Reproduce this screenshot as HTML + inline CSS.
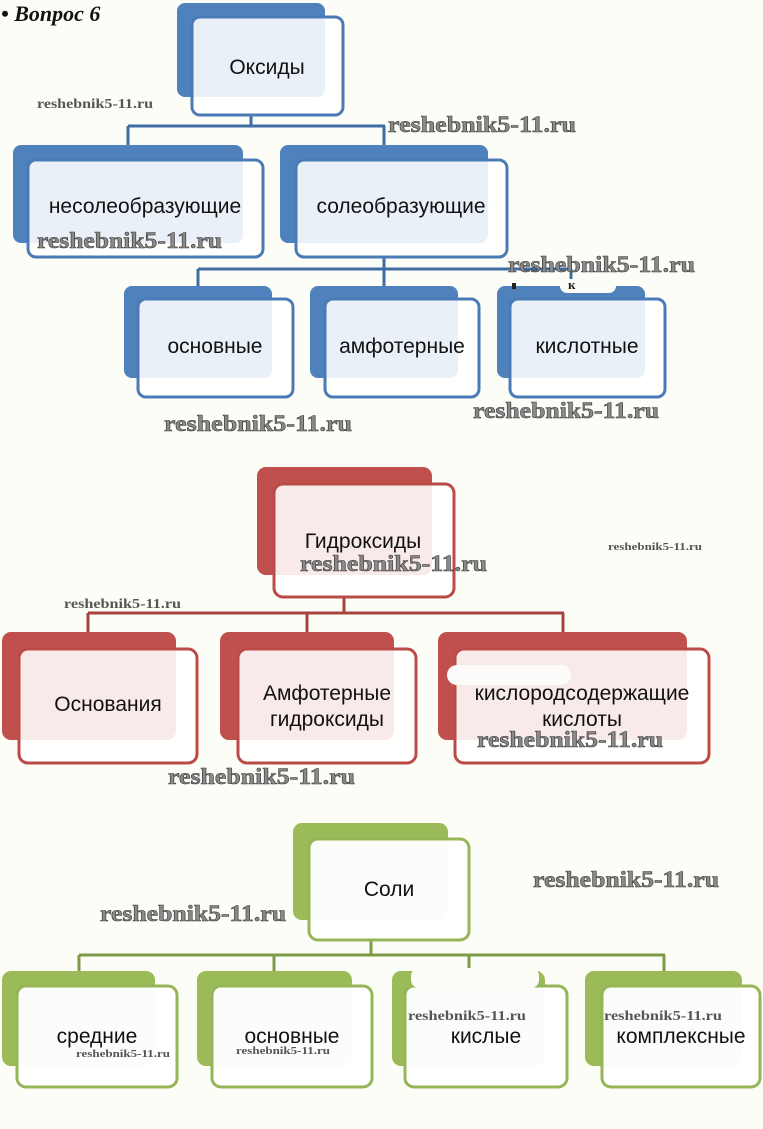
<!DOCTYPE html>
<html>
<head>
<meta charset="utf-8">
<style>
html,body{margin:0;padding:0;background:#fdfdf7;}
svg{display:block;}
.t{font-family:"Liberation Sans","DejaVu Sans",sans-serif;font-size:21px;fill:#111;text-anchor:middle;}
.wm{font-family:"Liberation Serif","DejaVu Serif",serif;font-weight:bold;fill:#8a8a8a;stroke:#3a3a3a;stroke-width:0.6;}
.ws{font-family:"Liberation Serif","DejaVu Serif",serif;font-weight:bold;fill:#555;}
.bb{fill:#4f81bd}
.bf{fill:#fff;fill-opacity:.88;stroke:#4a7bb7;stroke-width:3}
.bl{stroke:#3f6ca3;stroke-width:3;fill:none}
.rb{fill:#c0504d}
.rf{fill:#fff;fill-opacity:.88;stroke:#bb4b48;stroke-width:3}
.rl{stroke:#a8423f;stroke-width:3;fill:none}
.gb{fill:#9bbb59}
.gf{fill:#fff;fill-opacity:.97;stroke:#95b556;stroke-width:3}
.gl{stroke:#7d9a47;stroke-width:3;fill:none}
</style>
</head>
<body>
<svg width="763" height="1129" viewBox="0 0 763 1129" xmlns="http://www.w3.org/2000/svg">
<rect x="0" y="0" width="763" height="1129" fill="#fdfdf7"/>

<!-- Header -->
<text x="1" y="21" style="font-family:'Liberation Serif',serif;font-weight:bold;font-style:italic;font-size:22px;fill:#111">• Вопрос 6</text>

<!-- ===== Section 1: Oxides ===== -->
<path class="bl" d="M251 115 V126 M128 126 H385 M128 126 V146 M384 126 V146"/>
<path class="bl" d="M384 257 V269 M198 269 H572 M198 269 V287 M384 269 V287 M571 269 V287"/>

<rect class="bb" x="177" y="3" width="148" height="94" rx="8"/>
<rect class="bf" x="192" y="17" width="151" height="98" rx="8"/>
<text class="t" x="267" y="74">Оксиды</text>

<rect class="bb" x="13" y="145" width="230" height="98" rx="8"/>
<rect class="bf" x="28" y="160" width="235" height="97" rx="8"/>
<text class="t" x="145" y="213">несолеобразующие</text>

<rect class="bb" x="280" y="145" width="208" height="98" rx="8"/>
<rect class="bf" x="296" y="160" width="211" height="97" rx="8"/>
<text class="t" x="401" y="213">солеобразующие</text>

<rect class="bb" x="124" y="286" width="148" height="92" rx="8"/>
<rect class="bf" x="138" y="299" width="155" height="98" rx="8"/>
<text class="t" x="215" y="353">основные</text>

<rect class="bb" x="310" y="286" width="148" height="92" rx="8"/>
<rect class="bf" x="325" y="299" width="154" height="98" rx="8"/>
<text class="t" x="402" y="353">амфотерные</text>

<rect class="bb" x="497" y="286" width="148" height="92" rx="8"/>
<rect class="bf" x="510" y="299" width="155" height="98" rx="8"/>
<text class="t" x="587" y="353">кислотные</text>
<!-- artifact above кислотные -->
<rect x="560" y="279" width="56" height="14" rx="7" fill="#fdfdf7"/>
<text x="568" y="289" style="font-family:'Liberation Serif',serif;font-weight:bold;font-size:13px;fill:#222">к</text>
<rect x="512" y="283" width="4" height="6" fill="#222"/>

<!-- watermarks sec 1 -->
<text class="ws" x="37" y="108" font-size="14" textLength="116" lengthAdjust="spacingAndGlyphs">reshebnik5-11.ru</text>
<text class="wm" x="388" y="132" font-size="23" textLength="188" lengthAdjust="spacingAndGlyphs">reshebnik5-11.ru</text>
<text class="wm" x="37" y="248" font-size="23" textLength="185" lengthAdjust="spacingAndGlyphs">reshebnik5-11.ru</text>
<text class="wm" x="508" y="272" font-size="23" textLength="187" lengthAdjust="spacingAndGlyphs">reshebnik5-11.ru</text>
<text class="wm" x="164" y="431" font-size="23" textLength="188" lengthAdjust="spacingAndGlyphs">reshebnik5-11.ru</text>
<text class="wm" x="473" y="418" font-size="23" textLength="186" lengthAdjust="spacingAndGlyphs">reshebnik5-11.ru</text>

<!-- ===== Section 2: Hydroxides ===== -->
<path class="rl" d="M344 597 V613 M88 613 H564 M88 613 V633 M307 613 V633 M563 613 V633"/>

<rect class="rb" x="257" y="467" width="175" height="108" rx="9"/>
<rect class="rf" x="274" y="484" width="180" height="113" rx="9"/>
<text class="t" x="363" y="548">Гидроксиды</text>

<rect class="rb" x="2" y="632" width="174" height="108" rx="9"/>
<rect class="rf" x="19" y="649" width="178" height="114" rx="9"/>
<text class="t" x="108" y="711">Основания</text>

<rect class="rb" x="220" y="632" width="174" height="108" rx="9"/>
<rect class="rf" x="238" y="649" width="178" height="114" rx="9"/>
<text class="t" x="327" y="700">Амфотерные</text>
<text class="t" x="327" y="726">гидроксиды</text>

<rect class="rb" x="438" y="632" width="249" height="108" rx="9"/>
<rect class="rf" x="455" y="649" width="254" height="114" rx="9"/>
<rect x="447" y="665" width="124" height="20" rx="10" fill="#fdfbfa"/>
<text class="t" x="582" y="700">кислородсодержащие</text>
<text class="t" x="582" y="726">кислоты</text>

<!-- watermarks sec 2 -->
<text class="ws" x="64" y="608" font-size="14" textLength="117" lengthAdjust="spacingAndGlyphs">reshebnik5-11.ru</text>
<text class="ws" x="608" y="550" font-size="11" textLength="94" lengthAdjust="spacingAndGlyphs">reshebnik5-11.ru</text>
<text class="wm" x="300" y="571" font-size="23" textLength="187" lengthAdjust="spacingAndGlyphs">reshebnik5-11.ru</text>
<text class="wm" x="168" y="784" font-size="23" textLength="187" lengthAdjust="spacingAndGlyphs">reshebnik5-11.ru</text>
<text class="wm" x="477" y="747" font-size="23" textLength="186" lengthAdjust="spacingAndGlyphs">reshebnik5-11.ru</text>

<!-- ===== Section 3: Salts ===== -->
<path class="gl" d="M371 940 V955 M79 955 H665 M79 955 V972 M274 955 V972 M469 955 V972 M664 955 V972"/>

<rect class="gb" x="293" y="823" width="155" height="97" rx="9"/>
<rect class="gf" x="309" y="839" width="160" height="101" rx="9"/>
<text class="t" x="389" y="896">Соли</text>

<rect class="gb" x="2" y="971" width="153" height="95" rx="9"/>
<rect class="gf" x="17" y="986" width="160" height="101" rx="9"/>
<text class="t" x="97" y="1043">средние</text>

<rect class="gb" x="197" y="971" width="155" height="95" rx="9"/>
<rect class="gf" x="212" y="986" width="160" height="101" rx="9"/>
<text class="t" x="292" y="1043">основные</text>

<rect class="gb" x="392" y="971" width="153" height="95" rx="9"/>
<rect class="gf" x="405" y="986" width="162" height="101" rx="9"/>
<rect x="411" y="968" width="128" height="20" rx="8" fill="#fdfdf7"/>
<text class="t" x="486" y="1043">кислые</text>

<rect class="gb" x="585" y="971" width="157" height="95" rx="9"/>
<rect class="gf" x="602" y="986" width="158" height="101" rx="9"/>
<text class="t" x="681" y="1043">комплексные</text>

<!-- watermarks sec 3 -->
<text class="wm" x="100" y="921" font-size="23" textLength="186" lengthAdjust="spacingAndGlyphs">reshebnik5-11.ru</text>
<text class="wm" x="533" y="887" font-size="23" textLength="186" lengthAdjust="spacingAndGlyphs">reshebnik5-11.ru</text>
<text class="ws" x="76" y="1057" font-size="11" textLength="94" lengthAdjust="spacingAndGlyphs">reshebnik5-11.ru</text>
<text class="ws" x="236" y="1054" font-size="11" textLength="94" lengthAdjust="spacingAndGlyphs">reshebnik5-11.ru</text>
<text class="ws" x="408" y="1020" font-size="14" textLength="118" lengthAdjust="spacingAndGlyphs">reshebnik5-11.ru</text>
<text class="ws" x="604" y="1020" font-size="14" textLength="118" lengthAdjust="spacingAndGlyphs">reshebnik5-11.ru</text>
</svg>
</body>
</html>
